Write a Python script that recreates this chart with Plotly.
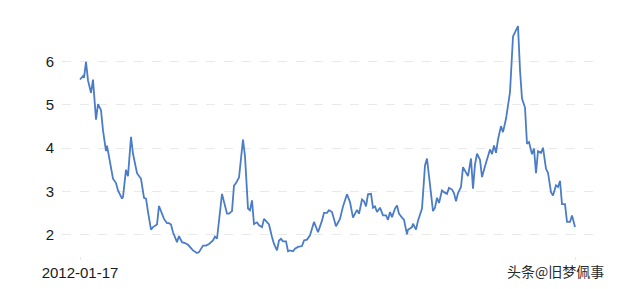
import pandas as pd
import plotly.graph_objects as go

start_date = "2012-01-17"
week_offsets = [0, 3, 4, 6, 8, 11, 13, 16, 18, 21, 23, 26, 27, 30, 33, 36, 38, 42, 43, 46,
                48, 51, 53, 57, 61, 64, 66, 68, 71, 73, 77, 79, 82, 84, 87, 89, 91, 93, 97, 99,
                102, 105, 108, 113, 117, 119, 123, 126, 129, 133, 135, 137, 142, 145, 147, 149, 152, 154, 156, 159,
                163, 165, 168, 170, 172, 174, 177, 179, 182, 184, 187, 189, 192, 194, 197, 199, 201, 203, 206, 208,
                210, 213, 215, 218, 222, 224, 227, 230, 234, 238, 242, 244, 247, 249, 252, 256, 260, 263, 267, 270,
                273, 277, 279, 282, 284, 286, 288, 291, 293, 295, 297, 300, 303, 306, 308, 310, 312, 315, 317, 319,
                322, 324, 327, 328, 332, 333, 336, 338, 342, 345, 347, 350, 353, 355, 357, 359, 362, 364, 367, 369,
                372, 374, 376, 378, 381, 383, 385, 388, 391, 393, 395, 397, 400, 402, 405, 408, 410, 412, 414, 416,
                418, 421, 423, 426, 428, 430, 433, 435, 438, 440, 442, 445, 447, 449, 452, 454, 456, 458, 461, 463,
                466, 468, 471, 473, 476, 478, 480, 482, 485, 487, 490, 492, 495]
values = [5.59, 5.67, 5.63, 6.00, 5.57, 5.28, 5.59, 4.66, 5.02, 4.88, 4.41, 3.93, 4.06, 3.64, 3.29, 3.19, 3.02, 2.83, 2.87, 3.50,
          3.35, 4.26, 3.87, 3.42, 3.29, 2.85, 2.83, 2.52, 2.11, 2.17, 2.23, 2.66, 2.49, 2.36, 2.26, 2.26, 2.23, 2.05, 1.82, 1.96,
          1.82, 1.80, 1.76, 1.63, 1.57, 1.59, 1.74, 1.74, 1.78, 1.86, 1.95, 1.90, 2.94, 2.67, 2.48, 2.48, 2.54, 3.13, 3.19, 3.32,
          4.20, 3.81, 2.60, 2.56, 2.79, 2.24, 2.28, 2.21, 2.17, 2.36, 2.29, 2.23, 1.94, 1.78, 1.63, 1.86, 1.90, 1.84, 1.84, 1.61,
          1.63, 1.61, 1.67, 1.71, 1.73, 1.86, 1.88, 1.98, 2.29, 2.05, 2.32, 2.50, 2.50, 2.56, 2.52, 2.19, 2.36, 2.65, 2.93, 2.75,
          2.39, 2.57, 2.48, 2.81, 2.77, 2.65, 2.93, 2.94, 2.62, 2.65, 2.52, 2.62, 2.44, 2.44, 2.34, 2.52, 2.40, 2.60, 2.67, 2.48,
          2.39, 2.34, 2.00, 2.11, 2.17, 2.25, 2.11, 2.32, 2.60, 3.60, 3.76, 3.14, 2.54, 2.62, 2.85, 2.73, 3.02, 2.98, 2.94, 3.08,
          3.04, 2.96, 2.77, 2.96, 3.10, 3.56, 3.47, 3.35, 3.76, 3.06, 3.62, 3.87, 3.73, 3.33, 3.58, 3.85, 3.97, 3.86, 4.06, 3.89,
          4.20, 4.51, 4.37, 4.68, 5.03, 5.30, 6.59, 6.69, 6.83, 5.81, 5.15, 4.94, 4.10, 4.14, 3.86, 3.99, 3.42, 3.93, 3.89, 4.01,
          3.52, 3.43, 2.98, 2.90, 3.14, 3.10, 3.24, 2.70, 2.70, 2.29, 2.29, 2.44, 2.17]
y_ticks = [2, 3, 4, 5, 6]
x_tick_labels = ["2012-01-17", ""]
watermark = "头条@旧梦佩事"

t0 = pd.Timestamp(start_date)
dates = [t0 + pd.Timedelta(weeks=w) for w in week_offsets]
x_range = [dates[0] - pd.Timedelta(weeks=18), dates[-1] + pd.Timedelta(weeks=20)]

fig = go.Figure()
fig.add_trace(go.Scatter(x=dates, y=values, mode="lines",
                         line=dict(color="#4a7cc8", width=1.8), hoverinfo="skip"))

fig.update_layout(
    width=640, height=289,
    margin=dict(l=62, r=45, t=23, b=33),
    paper_bgcolor="white", plot_bgcolor="white",
    showlegend=False,
    font=dict(family="Liberation Sans, Arial, sans-serif", size=15, color="#1a1a1a"),
    xaxis=dict(type="date", range=x_range, showgrid=False, zeroline=False, showline=False,
               automargin=False,
               tickvals=[dates[0], dates[-1]], ticktext=x_tick_labels,
               ticks="outside", ticklen=3, tickcolor="#e8e8e8", tickwidth=1),
    yaxis=dict(range=[1.5, 6.9], tickvals=y_ticks, showgrid=True, gridcolor="#e9e9e9",
               griddash="dash", gridwidth=1, zeroline=False, showline=False,
               automargin=False, ticks="", ticklabelstandoff=7),
)
fig.add_annotation(text=watermark, xref="paper", yref="paper", x=1.02, y=-0.064,
                   xanchor="right", yanchor="middle", showarrow=False,
                   font=dict(family="Noto Sans CJK SC", size=14, color="#2a2a2a"))

fig.write_html("out.html")
